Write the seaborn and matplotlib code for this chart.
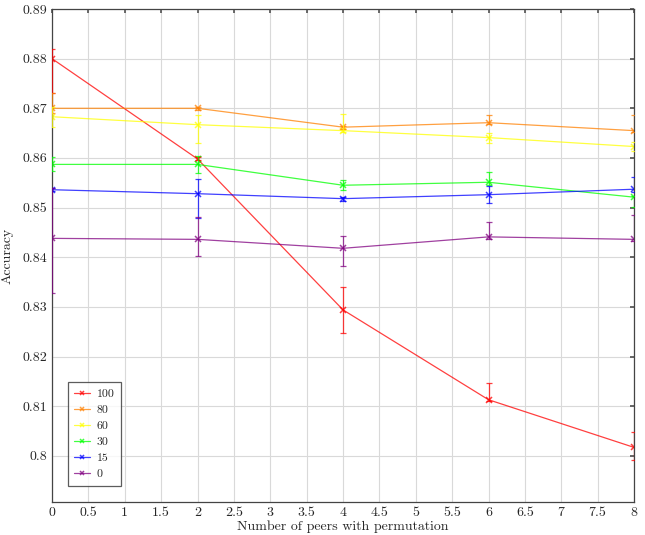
import numpy as np
import pandas as pd
import matplotlib
matplotlib.use("Agg")
import matplotlib.pyplot as plt
import seaborn as sns

# ---- data ----
peers = [0, 2, 4, 6, 8]
series_names = ["100", "80", "60", "30", "15", "0"]
acc_100 = [0.8800, 0.8598, 0.8294, 0.8113, 0.8017]
acc_80 = [0.8700, 0.8700, 0.8662, 0.8671, 0.8655]
acc_60 = [0.8683, 0.8667, 0.8655, 0.8641, 0.8623]
acc_30 = [0.8587, 0.8587, 0.8545, 0.8551, 0.8521]
acc_15 = [0.8536, 0.8528, 0.8518, 0.8526, 0.8537]
acc_0 = [0.8438, 0.8436, 0.8418, 0.8441, 0.8436]

err_up_100 = [0.0020, 0.0003, 0.0047, 0.0033, 0.0030]
err_lo_100 = [0.0070, 0.0003, 0.0047, 0.0003, 0.0026]
err_up_80 = [0.0030, 0.0003, 0.0003, 0.0015, 0.0032]
err_lo_80 = [0.0010, 0.0003, 0.0003, 0.0003, 0.0003]
err_up_60 = [0.0020, 0.0020, 0.0034, 0.0010, 0.0010]
err_lo_60 = [0.0020, 0.0036, 0.0003, 0.0010, 0.0010]
err_up_30 = [0.0014, 0.0017, 0.0010, 0.0020, 0.0003]
err_lo_30 = [0.0014, 0.0017, 0.0010, 0.0005, 0.0020]
err_up_15 = [0.0003, 0.0030, 0.0004, 0.0017, 0.0025]
err_lo_15 = [0.0003, 0.0048, 0.0004, 0.0017, 0.0005]
err_up_0 = [0.0102, 0.0045, 0.0024, 0.0030, 0.0050]
err_lo_0 = [0.0110, 0.0034, 0.0036, 0.0004, 0.0003]

xticks = [0, 0.5, 1, 1.5, 2, 2.5, 3, 3.5, 4, 4.5, 5, 5.5, 6, 6.5, 7, 7.5, 8]
xtick_labels = ["0", "0.5", "1", "1.5", "2", "2.5", "3", "3.5", "4", "4.5",
                "5", "5.5", "6", "6.5", "7", "7.5", "8"]
yticks = [0.80, 0.81, 0.82, 0.83, 0.84, 0.85, 0.86, 0.87, 0.88, 0.89]
ytick_labels = ["0.8", "0.81", "0.82", "0.83", "0.84", "0.85", "0.86", "0.87", "0.88", "0.89"]

colors = ["#ff0000", "#ff8000", "#ffff00", "#00ff00", "#0000ff", "#800080"]

values = [acc_100, acc_80, acc_60, acc_30, acc_15, acc_0]
ups = [err_up_100, err_up_80, err_up_60, err_up_30, err_up_15, err_up_0]
los = [err_lo_100, err_lo_80, err_lo_60, err_lo_30, err_lo_15, err_lo_0]

df = pd.DataFrame({
    "peers": np.tile(peers, len(series_names)),
    "acc": np.concatenate(values),
    "series": np.repeat(series_names, len(peers)),
})

sns.set_theme(style="white")
plt.rcParams["font.family"] = ["cmr10", "DejaVu Serif"]
plt.rcParams["mathtext.fontset"] = "cm"
plt.rcParams["axes.formatter.use_mathtext"] = True

fig = plt.figure(figsize=(6.45, 5.35), dpi=100)
ax = fig.add_axes([52 / 645, 1 - 502 / 535, (634 - 52) / 645, (502 - 9) / 535])

palette = dict(zip(series_names, colors))
sns.lineplot(data=df, x="peers", y="acc", hue="series", hue_order=series_names,
             palette=palette, marker="x", markersize=5, markeredgewidth=1.1,
             linewidth=0.9, alpha=0.75, ax=ax, legend=False)

line_handles = list(ax.get_lines())[:len(series_names)]
for ln in line_handles:
    ln.set_markeredgecolor(ln.get_color())
    ln.set_markerfacecolor(ln.get_color())

for vals, up, lo, c in zip(values, ups, los, colors):
    ax.errorbar(peers, vals, yerr=[lo, up], fmt="none", ecolor=c, elinewidth=0.9,
                capsize=2.5, capthick=0.9, alpha=0.75, zorder=3)

ax.set_xlim(0, 8)
ax.set_ylim(0.7907, 0.89)
ax.set_xticks(xticks)
ax.set_xticklabels(xtick_labels, fontsize=10)
ax.set_yticks(yticks)
ax.set_yticklabels(ytick_labels, fontsize=10)
ax.grid(True, color="#d9d9d9", linewidth=0.8)
ax.set_axisbelow(True)
ax.tick_params(direction="in", length=3, top=True, right=True, color="#555555")
for s in ax.spines.values():
    s.set_color("#444444")
    s.set_linewidth(0.9)
ax.set_xlabel("Number of peers with permutation", fontsize=10, labelpad=1)
ax.set_ylabel("Accuracy", fontsize=10, labelpad=6)

leg = ax.legend(line_handles, series_names, loc="lower left",
                bbox_to_anchor=(0.0275, 0.0325), borderaxespad=0, fontsize=8.5,
                frameon=True, fancybox=False, edgecolor="#333333",
                handlelength=1.3, borderpad=0.55, labelspacing=0.5,
                handletextpad=0.6, markerscale=0.7)
leg.get_frame().set_linewidth(0.9)

fig.savefig("out.png", dpi=100)
